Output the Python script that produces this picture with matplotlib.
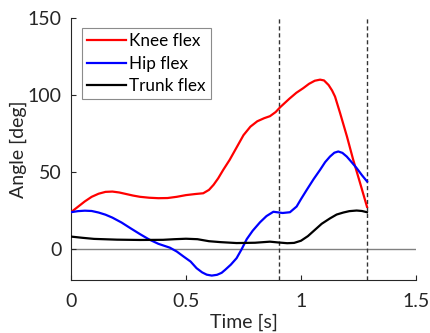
import matplotlib
matplotlib.use("Agg")
import matplotlib.pyplot as plt

# Joint angle traces over time
knee_t = [0, 0.03, 0.06, 0.09, 0.12, 0.15, 0.18, 0.21, 0.24, 0.27, 0.30, 0.34,
          0.38, 0.42, 0.46, 0.50, 0.54, 0.575, 0.60, 0.62, 0.64, 0.662, 0.69,
          0.72, 0.75, 0.78, 0.81, 0.84, 0.865, 0.89, 0.91, 0.95, 0.98, 1.01,
          1.035, 1.06, 1.083, 1.10, 1.12, 1.135, 1.148, 1.17, 1.20, 1.227,
          1.257, 1.287]
knee = [24, 27.5, 31, 34, 36, 37.2, 37.4, 36.8, 35.8, 34.8, 34, 33.4,
        33.1, 33.2, 34, 35.1, 35.8, 36.3, 38.5, 41.8, 46, 51.5, 58,
        66, 74, 79.5, 83, 85, 86.3, 89, 92.2, 97.7, 101.5, 104.5,
        107.3, 109.3, 110, 109.5, 106.5, 103, 99, 88.3, 73, 58,
        42.9, 27.5]

hip_t = [0, 0.03, 0.06, 0.09, 0.12, 0.15, 0.18, 0.22, 0.26, 0.30, 0.34, 0.38,
         0.43, 0.46, 0.49, 0.52, 0.546, 0.57, 0.59, 0.612, 0.635, 0.655, 0.67,
         0.695, 0.72, 0.742, 0.764, 0.79, 0.822, 0.85, 0.88, 0.92, 0.952,
         0.981, 1.0, 1.025, 1.055, 1.083, 1.105, 1.126, 1.145, 1.162, 1.18,
         1.199, 1.22, 1.242, 1.265, 1.287]
hip = [24, 24.7, 25, 24.8, 23.8, 22.4, 20.5, 17.3, 13.5, 9.8, 6.3, 3.5,
       1.0, -1.5, -4.8, -8.0, -12.3, -15, -16.5, -17.1, -16.6, -15.3, -13.4,
       -10, -5.8, 0, 6.5, 12, 17.5, 21.5, 24.3, 23.5, 24,
       27.7, 32.5, 38.5, 45.5, 51.5, 56.5, 60.1, 62.6, 63.4, 62.5,
       60.1, 56.5, 52.6, 48, 44]

trunk_t = [0, 0.05, 0.1, 0.2, 0.3, 0.4, 0.45, 0.5, 0.55, 0.6, 0.65, 0.72,
           0.8, 0.865, 0.9, 0.94, 0.97, 1.0, 1.03, 1.06, 1.09, 1.126, 1.155,
           1.184, 1.21, 1.242, 1.265, 1.287]
trunk = [8.2, 7.4, 6.7, 6.2, 6.0, 6.1, 6.5, 6.8, 6.5, 5.2, 4.6, 4.0,
         4.2, 4.9, 4.4, 3.9, 4.1, 5.5, 8.5, 12.5, 16.5, 20, 22.5,
         23.8, 24.7, 25.1, 24.8, 24]

event_times = [0.906, 1.287]
x_ticks = [0, 0.5, 1, 1.5]
x_tick_labels = ["0", "0.5", "1", "1.5"]
y_ticks = [0, 50, 100, 150]

plt.rcParams['font.family'] = ['Lato', 'DejaVu Sans']
txt = '#262626'

fig = plt.figure(figsize=(4.31, 3.33), dpi=100)
ax = fig.add_axes([0.1647, 0.159, 0.8005, 0.787])

ax.axhline(0, color='#808080', lw=1.0, zorder=1)
for t in event_times:
    ax.axvline(t, color='#333333', lw=1.0, ls=(0, (3, 2)), zorder=1)

ax.plot(knee_t, knee, color='#ff0000', lw=1.6, label='Knee flex', zorder=3)
ax.plot(hip_t, hip, color='#0000ff', lw=1.6, label='Hip flex', zorder=3)
ax.plot(trunk_t, trunk, color='#000000', lw=1.6, label='Trunk flex', zorder=3)

ax.set_xlim(0, 1.5)
ax.set_ylim(-20, 150)
ax.set_xticks(x_ticks)
ax.set_xticklabels(x_tick_labels)
ax.set_yticks(y_ticks)

for s in ['top', 'right']:
    ax.spines[s].set_visible(False)
for s in ['left', 'bottom']:
    ax.spines[s].set_color(txt)
    ax.spines[s].set_linewidth(0.8)

ax.tick_params(direction='in', length=3.5, width=0.8, colors=txt,
               labelsize=14)
ax.tick_params(axis='x', pad=9)
ax.tick_params(axis='y', pad=7)

ax.set_xlabel('Time [s]', fontsize=14, color=txt, labelpad=3)
ax.set_ylabel('Angle [deg]', fontsize=14, color=txt, labelpad=0)

leg = ax.legend(loc='upper left', bbox_to_anchor=(0.032, 0.962), fontsize=12.3,
                frameon=True, fancybox=False, handlelength=2.3, handletextpad=0.15,
                borderpad=0.3, labelspacing=0.38, borderaxespad=0)
leg.get_frame().set_edgecolor('#6e6e6e')
leg.get_frame().set_linewidth(0.8)
for t in leg.get_texts():
    t.set_color('#000000')

fig.savefig('out.png', dpi=100)
